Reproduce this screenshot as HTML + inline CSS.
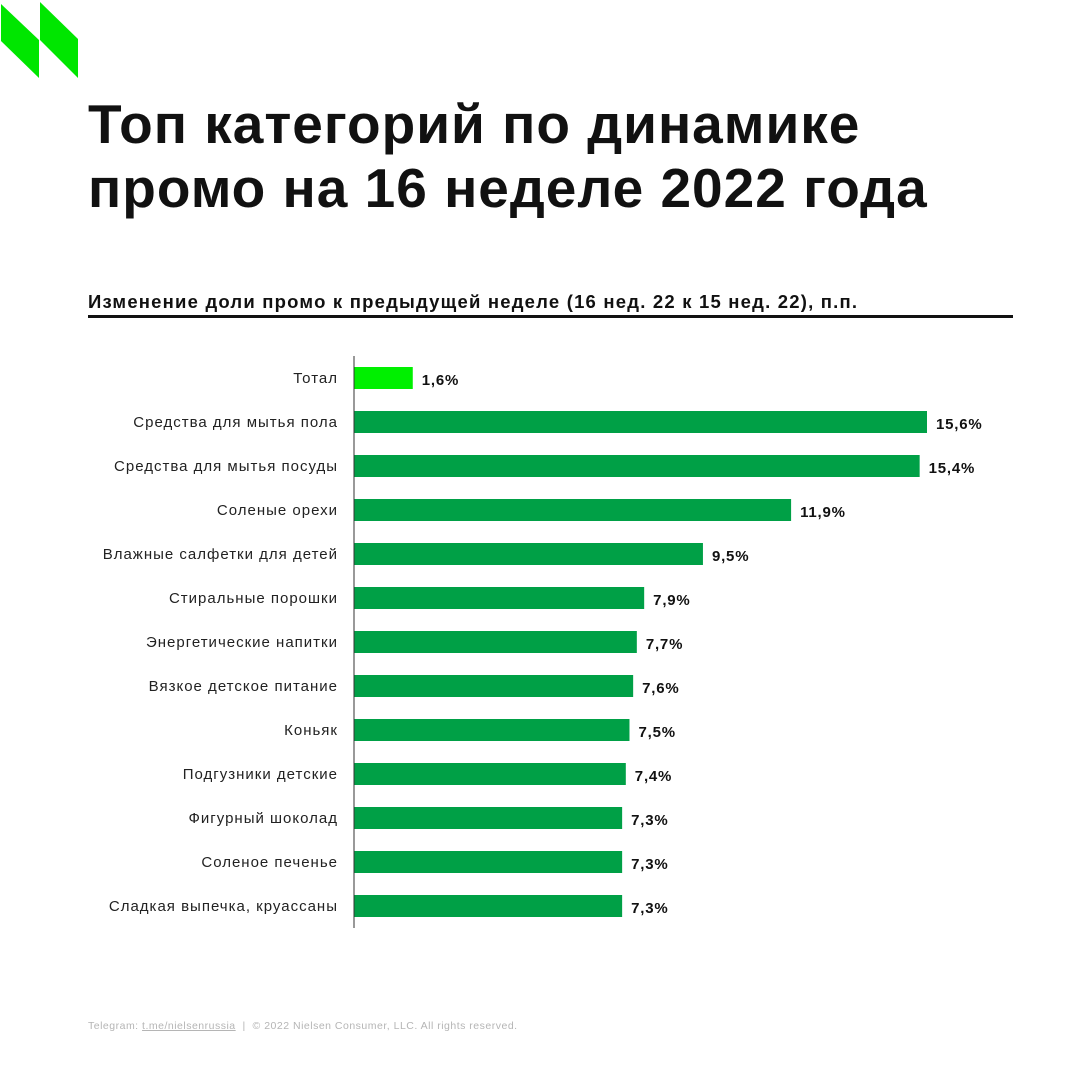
<!DOCTYPE html>
<html><head><meta charset="utf-8"><style>
body{margin:0;width:1080px;height:1080px;background:#fff;font-family:"Liberation Sans","DejaVu Sans",sans-serif;position:relative;overflow:hidden}
h1{position:absolute;left:88px;top:92px;margin:0;font-size:55px;line-height:64px;font-weight:bold;color:#111;letter-spacing:1px}
.sub{position:absolute;left:88px;top:291px;font-size:18.5px;font-weight:bold;color:#111;letter-spacing:1.2px}
.rule{position:absolute;left:88px;top:315px;width:925px;height:3px;background:#111}
.foot{position:absolute;left:88px;top:1020px;font-size:10.5px;color:#b5b5b5;letter-spacing:0.5px}
</style></head><body>
<svg style="position:absolute;left:0;top:0" width="90" height="90">
<polygon points="1,4 39,40 39,78 1,41" fill="#00e600"/>
<polygon points="40,2 78,39 78,78 40,40" fill="#00e600"/>
</svg>
<h1>Топ категорий по динамике<br>промо на 16 неделе 2022 года</h1>
<div class="sub">Изменение доли промо к предыдущей неделе (16 нед. 22 к 15 нед. 22), п.п.</div>
<div class="rule"></div>
<svg id="chart" style="position:absolute;left:0;top:0" width="1080" height="1000"></svg>
<div class="foot">Telegram: <u>t.me/nielsenrussia</u> &nbsp;| &nbsp;© 2022 Nielsen Consumer, LLC. All rights reserved.</div>
<script>
const categories=["Тотал","Средства для мытья пола","Средства для мытья посуды","Соленые орехи","Влажные салфетки для детей","Стиральные порошки","Энергетические напитки","Вязкое детское питание","Коньяк","Подгузники детские","Фигурный шоколад","Соленое печенье","Сладкая выпечка, круассаны"];
const values=[1.6,15.6,15.4,11.9,9.5,7.9,7.7,7.6,7.5,7.4,7.3,7.3,7.3];
const labels=["1,6%","15,6%","15,4%","11,9%","9,5%","7,9%","7,7%","7,6%","7,5%","7,4%","7,3%","7,3%","7,3%"];
const svg=document.getElementById('chart');
const NS='http://www.w3.org/2000/svg';
const x0=354, scale=573/15.6, y0=378, step=44, bh=22;
const xs=v=>x0+v*scale, ys=i=>y0+i*step;
function mk(t,a){const e=document.createElementNS(NS,t);for(const k in a)e.setAttribute(k,a[k]);svg.appendChild(e);return e;}
categories.forEach((c,i)=>{
 const r=mk('rect',{x:x0,y:ys(i)-bh/2,width:xs(values[i])-x0,height:bh,fill:i==0?'#00f000':'#00a046'});
 
 
 const t=mk('text',{x:338,y:ys(i)+5,'text-anchor':'end','font-size':15,'letter-spacing':1,fill:'#222'});t.textContent=c;
 
 
 const v=mk('text',{x:xs(values[i])+9,y:ys(i)+7,'font-size':15,'font-weight':'bold','letter-spacing':0.8,fill:'#111'});v.textContent=labels[i];
 
 
});
const ax=mk('line',{x1:x0,x2:x0,y1:356,y2:928,stroke:'#333','stroke-width':1});


</script>
</body></html>
